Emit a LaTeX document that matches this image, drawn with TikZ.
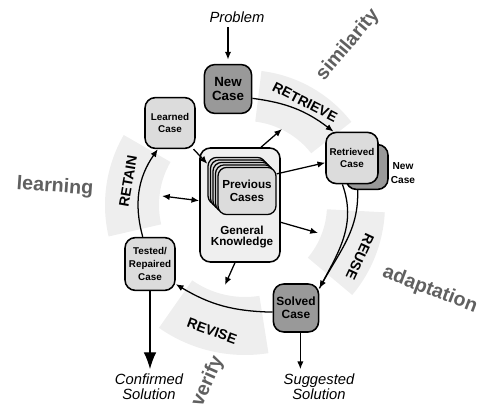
\documentclass[tikz,border=0pt]{standalone}
\usepackage{fontspec}
\setmainfont{Liberation Sans}
\usetikzlibrary{arrows.meta,positioning}
\definecolor{darkbox}{HTML}{999999}
\definecolor{lightbox}{HTML}{DCDCDC}
\definecolor{gkfill}{HTML}{EFEFEF}
\definecolor{bandgray}{HTML}{EEEEEE}
\definecolor{wordgray}{HTML}{606060}

\begin{document}
\begin{tikzpicture}[x=0.025cm, y=0.025cm,
  box/.style={rectangle, draw, line width=1.1pt, rounded corners=0.26cm, align=center, inner sep=1pt, font=\bfseries\fontsize{7}{9}\selectfont},
  card/.style={rectangle, draw, fill=lightbox, line width=0.9pt, rounded corners=0.22cm, minimum width=1.45cm, minimum height=1.18cm, align=center, inner sep=1pt, font=\bfseries\fontsize{8.3}{9}\selectfont},
  arrow/.style={-{Latex[length=5.5pt,width=4.5pt]}, line width=0.9pt},
  dblarrow/.style={{Latex[length=5.5pt,width=4.5pt]}-{Latex[length=5.5pt,width=4.5pt]}, line width=0.9pt},
  bigarrow/.style={-{Latex[length=12pt,width=9pt]}, line width=0.9pt},
  phase/.style={font=\bfseries\fontsize{10}{12}\selectfont},
  word/.style={text=wordgray, font=\bfseries\fontsize{14}{16}\selectfont},
  io/.style={align=center, font=\itshape\fontsize{10.5}{10.6}\selectfont}
]
\useasboundingbox (0,0) rectangle (483,407);

% phase bands
\foreach \a/\b/\ri/\ro in {38/83/84/135, -40/-3/82/140, 235/279/92/150, 150/193/86/140}
  \fill[bandgray, shift={(245,202)}] (\a:\ri) arc[start angle=\a, end angle=\b, radius=\ri]
    -- (\b:\ro) arc[start angle=\b, end angle=\a, radius=\ro] -- cycle;

% cases on the cycle
\node[box, fill=darkbox, minimum width=1.18cm, minimum height=1.22cm, font=\bfseries\fontsize{9.5}{9.5}\selectfont] (newc) at (228,318) {New\\Case};
\node[box, fill=lightbox, minimum width=1.25cm, minimum height=1.27cm] (learned) at (170,284) {Learned\\Case};
\node[box, fill=darkbox, minimum width=1.05cm, minimum height=1.12cm] (newb) at (367,240) {};
\node[box, fill=lightbox, minimum width=1.3cm, minimum height=1.28cm] (retrieved) at (352,249) {Retrieved\\Case};
\node[box, fill=lightbox, minimum width=1.25cm, minimum height=1.32cm] (tested) at (150,143) {Tested/\\Repaired\\Case};
\node[box, fill=darkbox, minimum width=1.13cm, minimum height=1.2cm, font=\bfseries\fontsize{8.5}{9.5}\selectfont] (solved) at (296,99) {Solved\\Case};
\node[font=\bfseries\fontsize{7.2}{10}\selectfont, align=center] (newlab) at (403,234) {New\\Case};

% general knowledge and case base
\node[box, fill=gkfill, minimum width=2cm, minimum height=2.85cm] (gk) at (240,202) {};
\foreach \i in {4,3,2,1}
  \node[card] (prev\i) at ({247-2.5*\i},{216+2.5*\i}) {};
\node[card] (prev) at (247,216) {Previous\\Cases};
\node[font=\bfseries\fontsize{8.3}{8.3}\selectfont, align=center] (gklab) at (242,170) {General\\Knowledge};

% input and output
\node[io] (problem) at (237,390) {Problem};
\node[io] (confirmed) at (149,20) {Confirmed\\Solution};
\node[io] (suggested) at (319,20) {Suggested\\Solution};

% free ends of the knowledge arrows
\coordinate (toret) at (282,278);
\coordinate (toreu) at (318,174);
\coordinate (torev) at (225,122);
\coordinate (toretain) at (162,211);

% cycle
\draw[arrow, shorten >=3pt] (newc.north |- problem.south) -- (newc.north);
\draw[arrow] (newc.-21) to[bend left=15] (retrieved.125);
\draw[line width=0.9pt] (newb.-112) to[out=-88, in=62] (solved.40);
\draw[arrow] (retrieved.-110) to[out=-70, in=62] (solved.40);
\draw[arrow] (solved.190) to[bend left=15] (tested.-38);
\draw[arrow] (tested.105) to[bend left=25] (learned.-115);
\draw[bigarrow] (tested.south) -- (tested.south |- confirmed.north);
\draw[arrow] (solved.-80) -- (solved.-80 |- suggested.north);

% knowledge arrows
\draw[arrow] (learned.-48) -- (prev4.150);
\draw[arrow] (gk.70) -- (toret);
\draw[arrow] (prev.30) -- (retrieved.190);
\draw[arrow] (gk.-23) -- (toreu);
\draw[arrow] (gk.-95) -- (torev);
\draw[dblarrow] (toretain) -- (gk.174);

% phase names
\node[phase, rotate=-27] (retrieve) at (305,305) {RETRIEVE};
\node[phase, rotate=-115] (reuse) at (360,150) {REUSE};
\node[phase, rotate=-20] (revise) at (212,76) {REVISE};
\node[phase, rotate=80] (retain) at (128,226) {RETAIN};

% outer words
\node[word, rotate=50] (similarity) at (348,362) {similarity};
\node[word, rotate=-4] (learning) at (55,220) {learning};
\node[word, rotate=-21] (adaptation) at (430,117) {adaptation};
\node[word, rotate=66] (verify) at (208,26) {verify};
\end{tikzpicture}
\end{document}
